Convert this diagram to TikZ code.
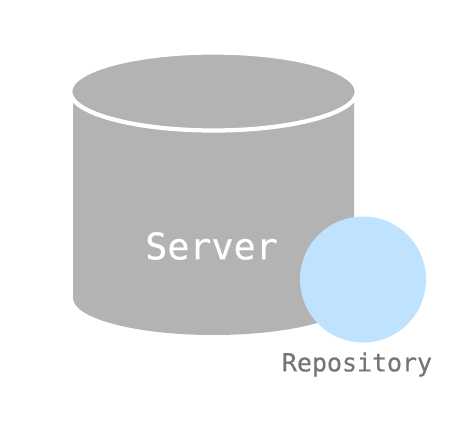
\documentclass[tikz,border=0pt]{standalone}
\usepackage{fontspec}
\usepackage{tikz}
\usetikzlibrary{shapes.geometric}
\newfontfamily\labelfont[FakeBold=0.5]{DejaVu Sans Mono}
\definecolor{servergray}{HTML}{B3B3B3}
\definecolor{repoblue}{HTML}{BFE2FF}
\definecolor{labelgray}{HTML}{757575}

\begin{document}
\begin{tikzpicture}[x=.75pt,y=-.75pt,
    lid/.style={ellipse,fill=servergray,draw=white,line width=3.2pt,minimum width=215pt,minimum height=58.5pt,inner sep=0pt,outer sep=0pt},
    repo/.style={circle,fill=repoblue,minimum size=94.5pt,inner sep=0pt,outer sep=0pt},
    label/.style={inner sep=0pt}]
    \useasboundingbox (0,0) rectangle (476,431);

    % body of the cylinder
    \fill[servergray] (73,92) -- (73,298) arc[start angle=180,end angle=0,x radius=140.5,y radius=37] -- (354,92) -- cycle;

    \node[lid] (lid) at (213.5,91.5) {};
    \node[repo] (repo) at (363,279.5) {};

    \node[label,text=white,font=\labelfont\fontsize{27.5}{30}\selectfont] (server) at (211.5,246) {Server};
    \node[label,text=labelgray,font=\labelfont\fontsize{18.7}{22}\selectfont] (repolabel) at (357,364.5) {Repository};
\end{tikzpicture}
\end{document}
